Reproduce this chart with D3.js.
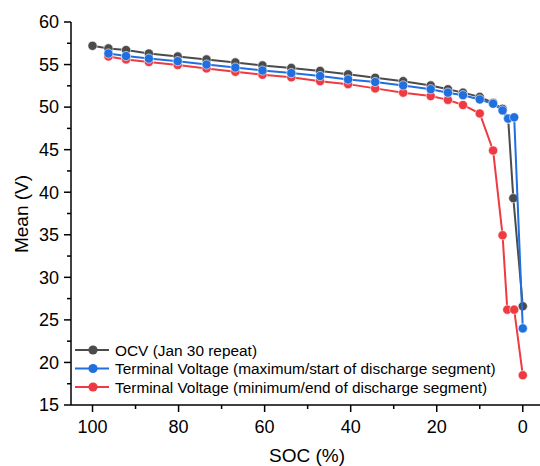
<!DOCTYPE html>
<html>
<head>
<meta charset="utf-8">
<script src="https://cdn.jsdelivr.net/npm/d3@7"></script>
<style>
  body { margin: 0; background: #fff; }
  svg { display: block; font-family: "Liberation Sans", Arial, sans-serif; }
</style>
</head>
<body>
<div class="canvas"></div>
<script>
// data
const socOcv = [100, 96.3, 92.2, 86.9, 80.2, 73.5, 66.8, 60.5, 53.8, 47.1, 40.6, 34.3, 27.8, 21.4, 17.4, 13.9, 10.0, 6.9, 4.7, 3.4, 2.2, 0]
const vOcv = [57.2, 56.9, 56.7, 56.3, 55.95, 55.6, 55.25, 54.9, 54.6, 54.25, 53.85, 53.45, 53.05, 52.55, 52.1, 51.7, 51.2, 50.5, 49.8, 48.65, 39.3, 26.6]

const socMax = [96.3, 92.2, 86.9, 80.2, 73.5, 66.8, 60.5, 53.8, 47.1, 40.6, 34.3, 27.8, 21.4, 17.4, 13.9, 10.0, 6.9, 4.7, 3.4, 2.0, 0]
const vMax = [56.3, 56.0, 55.7, 55.4, 55.0, 54.65, 54.3, 54.0, 53.65, 53.25, 52.95, 52.55, 52.1, 51.7, 51.4, 50.9, 50.4, 49.6, 48.65, 48.8, 24.0]

const socMin = [96.3, 92.2, 86.9, 80.2, 73.5, 66.8, 60.5, 53.8, 47.1, 40.6, 34.3, 27.8, 21.4, 17.4, 13.9, 10.0, 6.9, 4.7, 3.6, 2.0, 0]
const vMin = [55.95, 55.6, 55.3, 54.95, 54.55, 54.15, 53.8, 53.5, 53.05, 52.7, 52.2, 51.7, 51.3, 50.85, 50.25, 49.25, 44.9, 34.95, 26.2, 26.2, 18.5]

const xTicks = [100, 80, 60, 40, 20, 0]
const yTicks = [15, 20, 25, 30, 35, 40, 45, 50, 55, 60]

const seriesNames = [
  'OCV (Jan 30 repeat)',
  'Terminal Voltage (maximum/start of discharge segment)',
  'Terminal Voltage (minimum/end of discharge segment)'
]
const colours = ['#4b4b4b', '#1f6fe0', '#ee3a40']

const width = 540
const height = 466

const svg = d3.select('.canvas')
  .append('svg')
  .attr('width', width)
  .attr('height', height)

const x = d3.scaleLinear().domain([105, -4]).range([71, 540])
const y = d3.scaleLinear().domain([15, 60]).range([405, 22])

// minor ticks
const xMinor = d3.range(0, 101, 10).filter(d => d % 20 !== 0)
const yMinor = d3.range(17.5, 60, 5)

const xAxis = svg.append('g')
  .attr('transform', `translate(0, ${y(15)})`)
xAxis.append('line')
  .attr('x1', 71).attr('x2', 540)
  .attr('stroke', '#000').attr('stroke-width', 1.5)
xAxis.selectAll('.major')
  .data(xTicks)
  .enter().append('line')
  .attr('x1', d => x(d)).attr('x2', d => x(d))
  .attr('y1', 0).attr('y2', 7)
  .attr('stroke', '#000').attr('stroke-width', 1.5)
xAxis.selectAll('.minor')
  .data(xMinor)
  .enter().append('line')
  .attr('x1', d => x(d)).attr('x2', d => x(d))
  .attr('y1', 0).attr('y2', 4)
  .attr('stroke', '#000').attr('stroke-width', 1.5)
xAxis.selectAll('text')
  .data(xTicks)
  .enter().append('text')
  .attr('x', d => x(d))
  .attr('y', 28)
  .attr('text-anchor', 'middle')
  .style('font-size', '18px')
  .text(d => d)

const yAxis = svg.append('g')
  .attr('transform', `translate(71, 0)`)
yAxis.append('line')
  .attr('y1', y(60)).attr('y2', y(15))
  .attr('stroke', '#000').attr('stroke-width', 1.5)
yAxis.selectAll('.major')
  .data(yTicks)
  .enter().append('line')
  .attr('y1', d => y(d)).attr('y2', d => y(d))
  .attr('x1', 0).attr('x2', -7)
  .attr('stroke', '#000').attr('stroke-width', 1.5)
yAxis.selectAll('.minor')
  .data(yMinor)
  .enter().append('line')
  .attr('y1', d => y(d)).attr('y2', d => y(d))
  .attr('x1', 0).attr('x2', -4)
  .attr('stroke', '#000').attr('stroke-width', 1.5)
yAxis.selectAll('text')
  .data(yTicks)
  .enter().append('text')
  .attr('x', -12)
  .attr('y', d => y(d))
  .attr('dy', '0.35em')
  .attr('text-anchor', 'end')
  .style('font-size', '18px')
  .text(d => d)

svg.append('text')
  .attr('x', 307)
  .attr('y', 462)
  .attr('text-anchor', 'middle')
  .style('font-size', '19px')
  .text('SOC (%)')

svg.append('text')
  .attr('transform', `translate(28, 214) rotate(-90)`)
  .attr('text-anchor', 'middle')
  .style('font-size', '19px')
  .text('Mean (V)')

const line = d3.line()
  .x(d => x(d[0]))
  .y(d => y(d[1]))

const series = [
  {name: seriesNames[0], colour: colours[0], pts: d3.zip(socOcv, vOcv)},
  {name: seriesNames[1], colour: colours[1], pts: d3.zip(socMax, vMax)},
  {name: seriesNames[2], colour: colours[2], pts: d3.zip(socMin, vMin)}
]

// red first, then grey, blue sits on top
const drawOrder = [series[2], series[0], series[1]]
drawOrder.forEach(s => {
  const g = svg.append('g')
  g.append('path')
    .datum(s.pts)
    .attr('d', line)
    .attr('fill', 'none')
    .attr('stroke', s.colour)
    .attr('stroke-width', 2)
  g.selectAll('circle')
    .data(s.pts)
    .enter().append('circle')
    .attr('cx', d => x(d[0]))
    .attr('cy', d => y(d[1]))
    .attr('r', 4.6)
    .attr('fill', s.colour)
    .attr('stroke', '#fff')
    .attr('stroke-width', 0.6)
})

const legend = svg.append('g')
  .attr('transform', 'translate(75, 350)')
const items = legend.selectAll('g')
  .data(series)
  .enter().append('g')
  .attr('transform', (d, i) => `translate(0, ${i * 18.5})`)
items.append('line')
  .attr('x1', 0).attr('x2', 34)
  .attr('stroke', d => d.colour)
  .attr('stroke-width', 2)
items.append('circle')
  .attr('cx', 18)
  .attr('r', 4.6)
  .attr('fill', d => d.colour)
items.append('text')
  .attr('x', 40)
  .attr('dy', '0.36em')
  .style('font-size', '15.4px')
  .text(d => d.name)
</script>
</body>
</html>
